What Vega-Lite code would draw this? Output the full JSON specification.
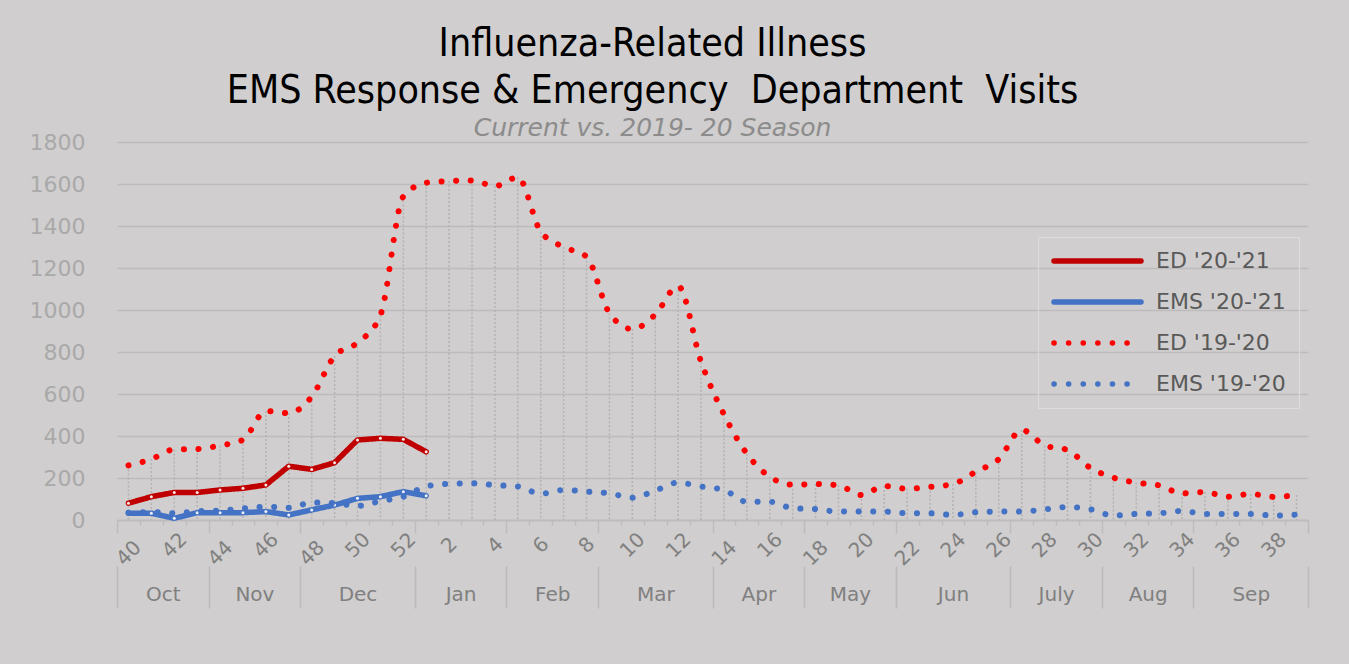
{
  "$schema": "https://vega.github.io/schema/vega-lite/v6.json",
  "autosize": {"type": "none"},
  "width": 1191,
  "height": 378,
  "padding": {"left": 117, "top": 142, "right": 41, "bottom": 144},
  "background": "#D0CECE",
  "config": {
    "view": {"stroke": null},
    "axisY": {"domain": false, "ticks": false, "grid": true, "gridColor": "#BDBBBB", "gridWidth": 1.6, "labelFont": "DejaVu Sans", "labelFontSize": 22, "labelColor": "#A9A9A9", "labelPadding": 32, "format": "d", "values": [0,200,400,600,800,1000,1200,1400,1600,1800]}
  },
  "title": {
    "text": ["Influenza-Related Illness", "EMS Response & Emergency\u00a0 Department\u00a0 Visits"],
    "subtitle": "Current vs. 2019- 20 Season",
    "font": "Liberation Sans Narrow, DejaVu Sans Condensed, sans-serif",
    "fontSize": 39,
    "fontWeight": "normal",
    "color": "#000000",
    "lineHeight": 47,
    "subtitleFont": "DejaVu Sans",
    "subtitleFontStyle": "italic",
    "subtitleFontSize": 25,
    "subtitleColor": "#8C8C8C",
    "subtitlePadding": 5,
    "anchor": "middle",
    "dx": -60,
    "offset": -10,
    "frame": "group"
  },
  "datasets": {
    "weeks": [
      {"i":0,"week":40,"ed19":260,"ems19":35,"ed20":80,"ems20":32},
      {"i":1,"week":41,"ed19":290,"ems19":38,"ed20":111,"ems20":32},
      {"i":2,"week":42,"ed19":336,"ems19":32,"ed20":131,"ems20":8},
      {"i":3,"week":43,"ed19":338,"ems19":42,"ed20":131,"ems20":35},
      {"i":4,"week":44,"ed19":355,"ems19":45,"ed20":143,"ems20":35},
      {"i":5,"week":45,"ed19":382,"ems19":55,"ed20":151,"ems20":35},
      {"i":6,"week":46,"ed19":519,"ems19":63,"ed20":167,"ems20":40},
      {"i":7,"week":47,"ed19":509,"ems19":58,"ed20":256,"ems20":24},
      {"i":8,"week":48,"ed19":587,"ems19":83,"ed20":241,"ems20":48},
      {"i":9,"week":49,"ed19":781,"ems19":80,"ed20":273,"ems20":71},
      {"i":10,"week":50,"ed19":844,"ems19":67,"ed20":381,"ems20":103},
      {"i":11,"week":51,"ed19":975,"ems19":90,"ed20":389,"ems20":111},
      {"i":12,"week":52,"ed19":1540,"ems19":111,"ed20":384,"ems20":135},
      {"i":13,"week":1,"ed19":1606,"ems19":160,"ed20":325,"ems20":115},
      {"i":14,"week":2,"ed19":1614,"ems19":172,"ed20":null,"ems20":null},
      {"i":15,"week":3,"ed19":1617,"ems19":175,"ed20":null,"ems20":null},
      {"i":16,"week":4,"ed19":1590,"ems19":166,"ed20":null,"ems20":null},
      {"i":17,"week":5,"ed19":1632,"ems19":160,"ed20":null,"ems20":null},
      {"i":18,"week":6,"ed19":1373,"ems19":125,"ed20":null,"ems20":null},
      {"i":19,"week":7,"ed19":1300,"ems19":143,"ed20":null,"ems20":null},
      {"i":20,"week":8,"ed19":1254,"ems19":135,"ed20":null,"ems20":null},
      {"i":21,"week":9,"ed19":985,"ems19":127,"ed20":null,"ems20":null},
      {"i":22,"week":10,"ed19":909,"ems19":106,"ed20":null,"ems20":null},
      {"i":23,"week":11,"ed19":978,"ems19":140,"ed20":null,"ems20":null},
      {"i":24,"week":12,"ed19":1114,"ems19":178,"ed20":null,"ems20":null},
      {"i":25,"week":13,"ed19":754,"ems19":159,"ed20":null,"ems20":null},
      {"i":26,"week":14,"ed19":503,"ems19":143,"ed20":null,"ems20":null},
      {"i":27,"week":15,"ed19":316,"ems19":87,"ed20":null,"ems20":null},
      {"i":28,"week":16,"ed19":206,"ems19":87,"ed20":null,"ems20":null},
      {"i":29,"week":17,"ed19":168,"ems19":56,"ed20":null,"ems20":null},
      {"i":30,"week":18,"ed19":171,"ems19":52,"ed20":null,"ems20":null},
      {"i":31,"week":19,"ed19":165,"ems19":40,"ed20":null,"ems20":null},
      {"i":32,"week":20,"ed19":119,"ems19":40,"ed20":null,"ems20":null},
      {"i":33,"week":21,"ed19":162,"ems19":40,"ed20":null,"ems20":null},
      {"i":34,"week":22,"ed19":149,"ems19":32,"ed20":null,"ems20":null},
      {"i":35,"week":23,"ed19":158,"ems19":32,"ed20":null,"ems20":null},
      {"i":36,"week":24,"ed19":171,"ems19":24,"ed20":null,"ems20":null},
      {"i":37,"week":25,"ed19":230,"ems19":37,"ed20":null,"ems20":null},
      {"i":38,"week":26,"ed19":290,"ems19":40,"ed20":null,"ems20":null},
      {"i":39,"week":27,"ed19":429,"ems19":40,"ed20":null,"ems20":null},
      {"i":40,"week":28,"ed19":355,"ems19":51,"ed20":null,"ems20":null},
      {"i":41,"week":29,"ed19":333,"ems19":62,"ed20":null,"ems20":null},
      {"i":42,"week":30,"ed19":248,"ems19":51,"ed20":null,"ems20":null},
      {"i":43,"week":31,"ed19":202,"ems19":21,"ed20":null,"ems20":null},
      {"i":44,"week":32,"ed19":178,"ems19":29,"ed20":null,"ems20":null},
      {"i":45,"week":33,"ed19":165,"ems19":32,"ed20":null,"ems20":null},
      {"i":46,"week":34,"ed19":127,"ems19":43,"ed20":null,"ems20":null},
      {"i":47,"week":35,"ed19":133,"ems19":29,"ed20":null,"ems20":null},
      {"i":48,"week":36,"ed19":111,"ems19":29,"ed20":null,"ems20":null},
      {"i":49,"week":37,"ed19":124,"ems19":29,"ed20":null,"ems20":null},
      {"i":50,"week":38,"ed19":110,"ems19":21,"ed20":null,"ems20":null},
      {"i":51,"week":39,"ed19":119,"ems19":26,"ed20":null,"ems20":null}
    ]
  },
  "data": {"name": "weeks"},
  "resolve": {"axis": {"x": "independent"}},
  "layer": [
    {
      "mark": {"type": "rule", "color": "#B4B2B2", "strokeDash": [2, 2], "strokeWidth": 1.5},
      "encoding": {
        "x": {
          "field": "i", "type": "quantitative",
          "scale": {"domain": [-0.5, 51.5], "nice": false, "zero": false},
          "axis": {
            "orient": "bottom", "offset": 46, "domain": false, "grid": false, "title": null,
            "values": [-0.5, 3.5, 7.5, 12.5, 16.5, 20.5, 25.5, 29.5, 33.5, 38.5, 42.5, 46.5, 51.5, 1.5, 5.5, 10, 14.5, 18.5, 23, 27.5, 31.5, 36, 40.5, 44.5, 49],
            "tickSize": 42, "tickWidth": 1.6, "tickColor": "#BDBBBB",
            "tickOpacity": {"condition": {"test": "indexof([1.5, 5.5, 10, 14.5, 18.5, 23, 27.5, 31.5, 36, 40.5, 44.5, 49], datum.value) >= 0", "value": 0}, "value": 1},
            "labelExpr": "indexof([1.5, 5.5, 10, 14.5, 18.5, 23, 27.5, 31.5, 36, 40.5, 44.5, 49], datum.value) >= 0 ? ['Oct','Nov','Dec','Jan','Feb','Mar','Apr','May','Jun','July','Aug','Sep'][indexof([1.5, 5.5, 10, 14.5, 18.5, 23, 27.5, 31.5, 36, 40.5, 44.5, 49], datum.value)] : ''",
            "labelFont": "DejaVu Sans", "labelFontSize": 20, "labelColor": "#808080",
            "labelBaseline": "middle", "labelAlign": "center", "labelPadding": -14,
            "labelOverlap": false, "labelFlush": false, "labelBound": false
          }
        },
        "y": {"field": "ed19", "type": "quantitative", "title": null, "scale": {"domain": [0, 1800], "nice": false}},
        "y2": {"datum": 0}
      }
    },
    {
      "transform": [
        {"fold": ["ed20", "ems20"], "as": ["key", "value"]},
        {"filter": "datum.value != null"}
      ],
      "mark": {"type": "line", "strokeWidth": 5.5, "strokeCap": "round", "strokeJoin": "round"},
      "encoding": {
        "x": {
          "field": "i", "type": "quantitative",
          "axis": {
            "orient": "bottom", "grid": false, "title": null,
            "values": [-0.5,0.5,1.5,2.5,3.5,4.5,5.5,6.5,7.5,8.5,9.5,10.5,11.5,12.5,13.5,14.5,15.5,16.5,17.5,18.5,19.5,20.5,21.5,22.5,23.5,24.5,25.5,26.5,27.5,28.5,29.5,30.5,31.5,32.5,33.5,34.5,35.5,36.5,37.5,38.5,39.5,40.5,41.5,42.5,43.5,44.5,45.5,46.5,47.5,48.5,49.5,50.5,51.5],
            "domainColor": "#BDBBBB", "domainWidth": 1.6,
            "tickColor": "#BDBBBB", "tickWidth": 1.4,
            "tickSize": {"condition": {"test": "indexof([-0.5, 3.5, 7.5, 12.5, 16.5, 20.5, 25.5, 29.5, 33.5, 38.5, 42.5, 46.5, 51.5], datum.value) >= 0", "value": 13}, "value": 5},
            "labelExpr": "(datum.value + 0.5) % 2 == 0 && datum.value < 51 ? ((datum.value + 0.5) < 13 ? '' + (datum.value + 40.5) : '' + (datum.value - 11.5)) : ''",
            "labelOffset": 11.45, "labelAngle": -45, "labelAlign": "center", "labelBaseline": "middle", "labelPadding": 20,
            "labelFont": "DejaVu Sans", "labelFontSize": 20, "labelColor": "#808080",
            "labelOverlap": false, "labelFlush": false, "labelBound": false
          }
        },
        "y": {"field": "value", "type": "quantitative", "title": null},
        "color": {
          "field": "key", "type": "nominal",
          "scale": {"domain": ["ed20", "ems20", "ed19", "ems19"], "range": ["#C00000", "#4472C4", "#FF0000", "#4472C4"]},
          "legend": {
            "title": null, "orient": "none", "legendX": 921, "legendY": 95,
            "labelExpr": "{'ed20': \"ED '20-'21\", 'ems20': \"EMS '20-'21\", 'ed19': \"ED '19-'20\", 'ems19': \"EMS '19-'20\"}[datum.label]",
            "symbolType": "stroke", "symbolSize": 7569, "symbolStrokeWidth": 5.5, "clipHeight": 22,
            "labelFont": "DejaVu Sans", "labelFontSize": 22, "labelColor": "#595959", "labelOffset": 12,
            "rowPadding": 19, "padding": 13,
            "strokeColor": "#DEDCDC", "fillColor": null,
            "encode": {"symbols": {"update": {"strokeCap": {"value": "round"}}}}
          }
        },
        "strokeDash": {
          "field": "key", "type": "nominal",
          "scale": {"domain": ["ed20", "ems20", "ed19", "ems19"], "range": [[1, 0], [1, 0], [0.1, 14.5], [0.1, 14.5]]},
          "legend": null
        }
      }
    },
    {
      "transform": [
        {"fold": ["ed20", "ems20"], "as": ["key", "value"]},
        {"filter": "datum.value != null"}
      ],
      "mark": {"type": "point", "filled": true, "color": "#FFFFFF", "size": 9, "opacity": 0.9},
      "encoding": {
        "x": {"field": "i", "type": "quantitative", "axis": null},
        "y": {"field": "value", "type": "quantitative", "title": null}
      }
    },
    {
      "transform": [
        {"fold": ["ed19", "ems19"], "as": ["key", "value"]}
      ],
      "mark": {"type": "line", "strokeWidth": 6, "strokeCap": "round", "interpolate": "monotone"},
      "encoding": {
        "x": {"field": "i", "type": "quantitative", "axis": null},
        "y": {"field": "value", "type": "quantitative", "title": null},
        "color": {"field": "key", "type": "nominal"},
        "strokeDash": {"field": "key", "type": "nominal"}
      }
    }
  ]
}
